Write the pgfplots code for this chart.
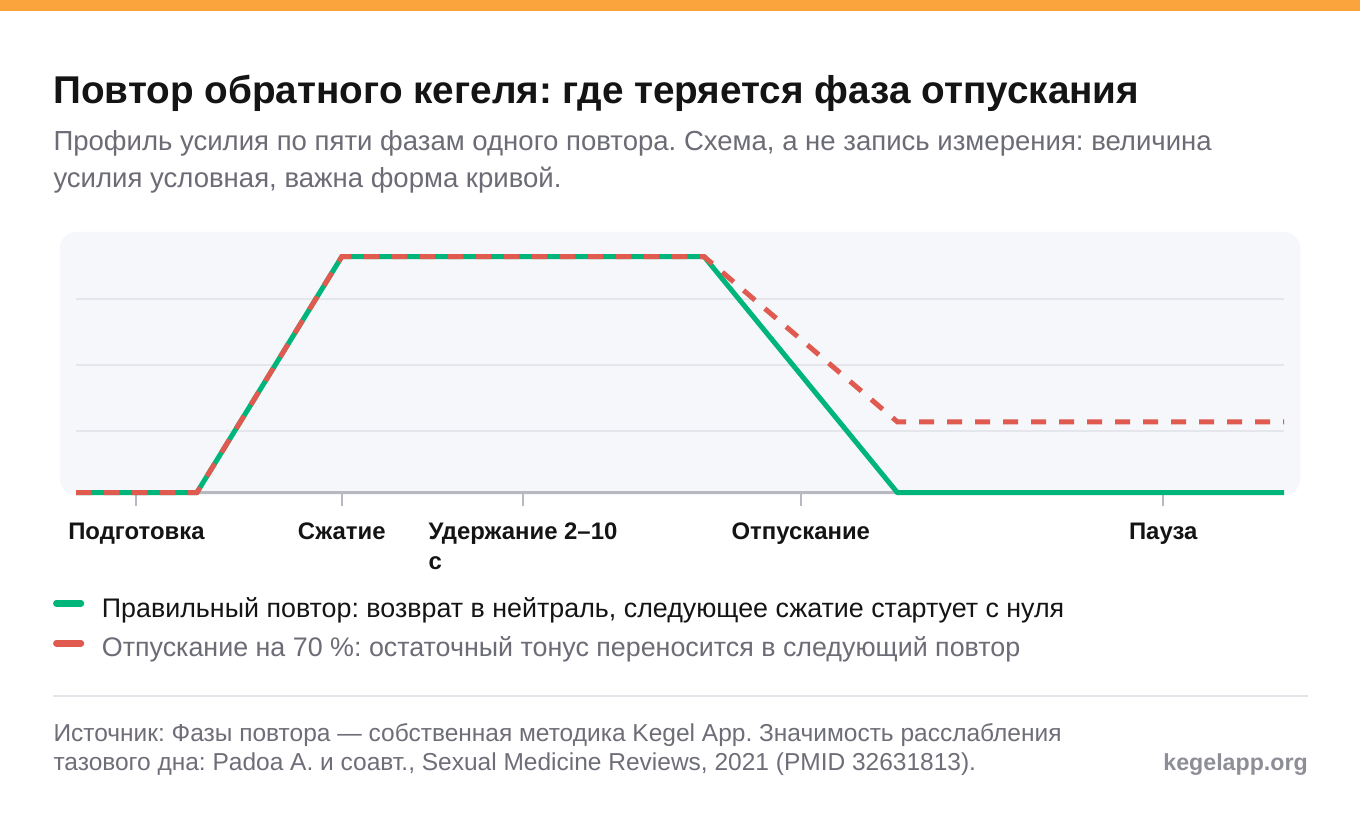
\documentclass[border=0pt]{standalone}
\usepackage{fontspec}
\setmainfont{Liberation Sans}
\usepackage{pgfplots}
\pgfplotsset{compat=1.18}

\definecolor{titlecol}{HTML}{141414}
\definecolor{subcol}{HTML}{6C6C76}
\definecolor{footcol}{HTML}{6E6E78}
\definecolor{sitecol}{HTML}{8E8E97}
\definecolor{okgreen}{HTML}{00B57A}
\definecolor{badred}{HTML}{E05A4F}
\definecolor{panel}{HTML}{F5F7FB}
\definecolor{gridcol}{HTML}{E4E6EC}
\definecolor{axiscol}{HTML}{B8B9C0}
\definecolor{sepcol}{HTML}{E4E4EA}
\definecolor{topbar}{HTML}{FBA43D}

\begin{document}
\frenchspacing
\begin{tikzpicture}[x=1pt,y=1pt]
% page
\fill[white] (0,0) rectangle (1360,-834);
\fill[topbar] (0,0) rectangle (1360,-10.7);

% title block
\node[anchor=base west, inner sep=0, text=titlecol,
      font=\fontsize{38.7}{42}\selectfont\bfseries] at (53.3,-103.3)
  {Повтор обратного кегеля: где теряется фаза отпускания};
\node[anchor=base west, inner sep=0, text=subcol,
      font=\fontsize{27.55}{30}\selectfont] at (53.3,-150.7)
  {Профиль усилия по пяти фазам одного повтора. Схема, а не запись измерения: величина};
\node[anchor=base west, inner sep=0, text=subcol,
      font=\fontsize{27.55}{30}\selectfont] at (53.3,-188)
  {усилия условная, важна форма кривой.};

% plot panel
\fill[panel, rounded corners=16pt] (60,-232) rectangle (1300,-495);

\begin{axis}[
    at={(76pt,-492.7pt)}, anchor=south west,
    width=1208pt, height=236pt, scale only axis,
    xmin=0, xmax=100, ymin=0, ymax=100,
    clip=false,
    axis x line*=bottom, axis y line*=left,
    x axis line style={-, draw=axiscol, line width=2.5pt},
    y axis line style={-, draw=none},
    xtick={5,22,37,60,90},
    xticklabels={Подготовка, Сжатие, {Удержание 2–10\\с}, Отпускание, Пауза},
    xtick style={draw=axiscol, line width=2pt},
    tick align=outside, major tick length=13.5pt,
    xticklabel style={font=\fontsize{23.9}{30}\selectfont\bfseries,
                      text=titlecol, align=left, anchor=north, yshift=-13pt},
    ytick={26.3,54.1,82.1}, yticklabels={},
    ytick style={draw=none},
    ymajorgrids, y grid style={draw=gridcol, line width=2pt},
  ]
  % correct repetition: back to zero
  \addplot[okgreen, line width=5pt, line join=round] coordinates {
    (0,0) (10,0) (22,100) (52,100) (68,0) (100,0)};
  % 70 % release: residual tone carried over
  \addplot[badred, line width=5pt, dash pattern=on 15pt off 13pt] coordinates {
    (0,0) (10,0) (22,100) (52,100) (68,30) (100,30)};
\end{axis}

% legend
\draw[okgreen, line width=6.5pt, line cap=round] (56.3,-603.3) -- (81,-603.3);
\node[anchor=base west, inner sep=0, text=titlecol,
      font=\fontsize{26.85}{30}\selectfont] at (101.7,-617.7)
  {Правильный повтор: возврат в нейтраль, следующее сжатие стартует с нуля};
\draw[badred, line width=6.5pt, line cap=round] (56.3,-643.3) -- (81,-643.3);
\node[anchor=base west, inner sep=0, text=subcol,
      font=\fontsize{26.85}{30}\selectfont] at (101.7,-656.7)
  {Отпускание на 70 \%: остаточный тонус переносится в следующий повтор};

% footer
\draw[sepcol, line width=2pt] (53,-696) -- (1308,-696);
\node[anchor=base west, inner sep=0, text=footcol,
      font=\fontsize{24.5}{29}\selectfont] at (53.3,-741)
  {Источник: Фазы повтора — собственная методика Kegel App. Значимость расслабления};
\node[anchor=base west, inner sep=0, text=footcol,
      font=\fontsize{24.5}{29}\selectfont] at (53.3,-770)
  {тазового дна: Padoa A. и соавт., Sexual Medicine Reviews, 2021 (PMID 32631813).};
\node[anchor=base east, inner sep=0, text=sitecol,
      font=\fontsize{23.2}{29}\selectfont\bfseries] at (1308,-770.7)
  {kegelapp.org};
\end{tikzpicture}
\end{document}
